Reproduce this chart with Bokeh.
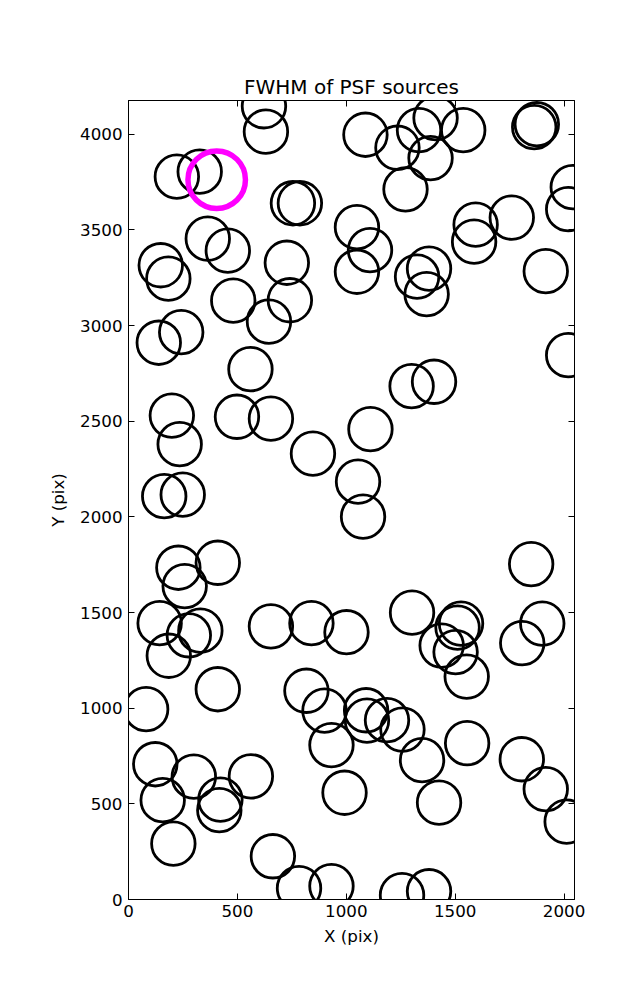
from bokeh.plotting import figure
from bokeh.models import Range1d, LinearAxis, SingleIntervalTicker, ColumnDataSource, CustomJSTickFormatter
from bokeh.embed import file_html
from bokeh.resources import INLINE

# PSF source positions (CCD pixels)
src_x = [622, 631, 222, 327, 755, 787, 364, 456, 148, 183,
         727, 481, 741, 645, 139, 242, 560, 1088, 1235, 1334,
         1410, 1537, 1387, 1272, 1863, 1875, 2040, 2019, 1049, 1109,
         1049, 1594, 1760, 1587, 1916, 1380, 1325, 1369, 2019, 1300,
         1403, 199, 235, 498, 654, 847, 1111, 1054, 1077, 164,
         249, 229, 410, 258, 143, 330, 277, 185, 654, 840,
         1001, 1302, 1527, 1511, 1438, 1502, 1553, 1808, 1900, 1849,
         410, 81, 817, 900, 932, 992, 123, 300, 562, 157,
         422, 417, 206, 663, 783, 932, 1091, 1095, 1187, 1258,
         1348, 1555, 1806, 1916, 2012, 1426, 1256, 1380]
src_y = [4146, 4013, 3778, 3804, 3639, 3639, 3454, 3391, 3315, 3245,
         3328, 3130, 3132, 3020, 2910, 2965, 2772, 3997, 3929, 4021,
         4084, 4021, 3875, 3712, 4037, 4052, 3723, 3608, 3514, 3394,
         3281, 3527, 3564, 3438, 3284, 3297, 3255, 3164, 2845, 2683,
         2706, 2529, 2380, 2523, 2513, 2330, 2458, 2184, 2001, 2108,
         2116, 1734, 1760, 1638, 1444, 1405, 1381, 1274, 1428, 1444,
         1397, 1499, 1442, 1421, 1327, 1293, 1165, 1340, 1442, 1753,
         1099, 995, 1091, 987, 807, 558, 707, 642, 644, 519,
         522, 467, 292, 226, 59, 70, 989, 935, 937, 888,
         728, 817, 733, 577, 407, 506, 23, 43]

# highlighted source
hl_x = [405]
hl_y = [3762]

x_max = 2048
y_max = 4176
tick_step = 500

FONT = "DejaVu Sans"

p = figure(
    output_backend="svg", toolbar_location=None,
    frame_width=446, frame_height=799,
    min_border_left=128, min_border_right=55,
    min_border_top=100, min_border_bottom=93,
    x_range=Range1d(0, x_max), y_range=Range1d(0, y_max),
    title="FWHM of PSF sources",
)

p.title.align = "center"
p.title.text_font = FONT
p.title.text_font_size = "20px"
p.title.text_font_style = "normal"
p.title.text_color = "black"
p.title.standoff = 3

p.grid.visible = False
p.outline_line_color = "black"
p.outline_line_width = 1
p.background_fill_color = "white"
p.border_fill_color = "white"

def style_axis(ax):
    ax.ticker = SingleIntervalTicker(interval=tick_step, num_minor_ticks=0)
    ax.major_tick_in = 6
    ax.major_tick_out = 0
    ax.minor_tick_in = 0
    ax.minor_tick_out = 0
    ax.axis_line_color = "black"
    ax.major_tick_line_color = "black"
    ax.major_label_text_font = FONT
    ax.major_label_text_font_size = "16.7px"
    ax.major_label_text_color = "black"
    ax.axis_label_text_font = FONT
    ax.axis_label_text_font_size = "16.7px"
    ax.axis_label_text_font_style = "normal"
    ax.axis_label_text_color = "black"

xa = p.xaxis[0]
ya = p.yaxis[0]
style_axis(xa)
style_axis(ya)
xa.axis_label = "X (pix)"
ya.axis_label = "Y (pix)"
xa.major_label_standoff = 5
ya.major_label_standoff = 6
xa.axis_label_standoff = 6
ya.axis_label_standoff = 9

blank = CustomJSTickFormatter(code="return ''")
top_ax = LinearAxis(formatter=blank)
style_axis(top_ax)
top_ax.major_label_standoff = 0
p.add_layout(top_ax, "above")
right_ax = LinearAxis(formatter=blank)
style_axis(right_ax)
right_ax.major_label_standoff = 0
p.add_layout(right_ax, "right")

src = ColumnDataSource(dict(x=src_x, y=src_y))
p.scatter("x", "y", source=src, marker="circle", size=43.5,
          fill_color=None, line_color="black", line_width=2.8)

hl = ColumnDataSource(dict(x=hl_x, y=hl_y))
p.scatter("x", "y", source=hl, marker="circle", size=57.5,
          fill_color=None, line_color="#ff00ff", line_width=5.5)

open("out.html", "w").write(file_html(p, INLINE))
